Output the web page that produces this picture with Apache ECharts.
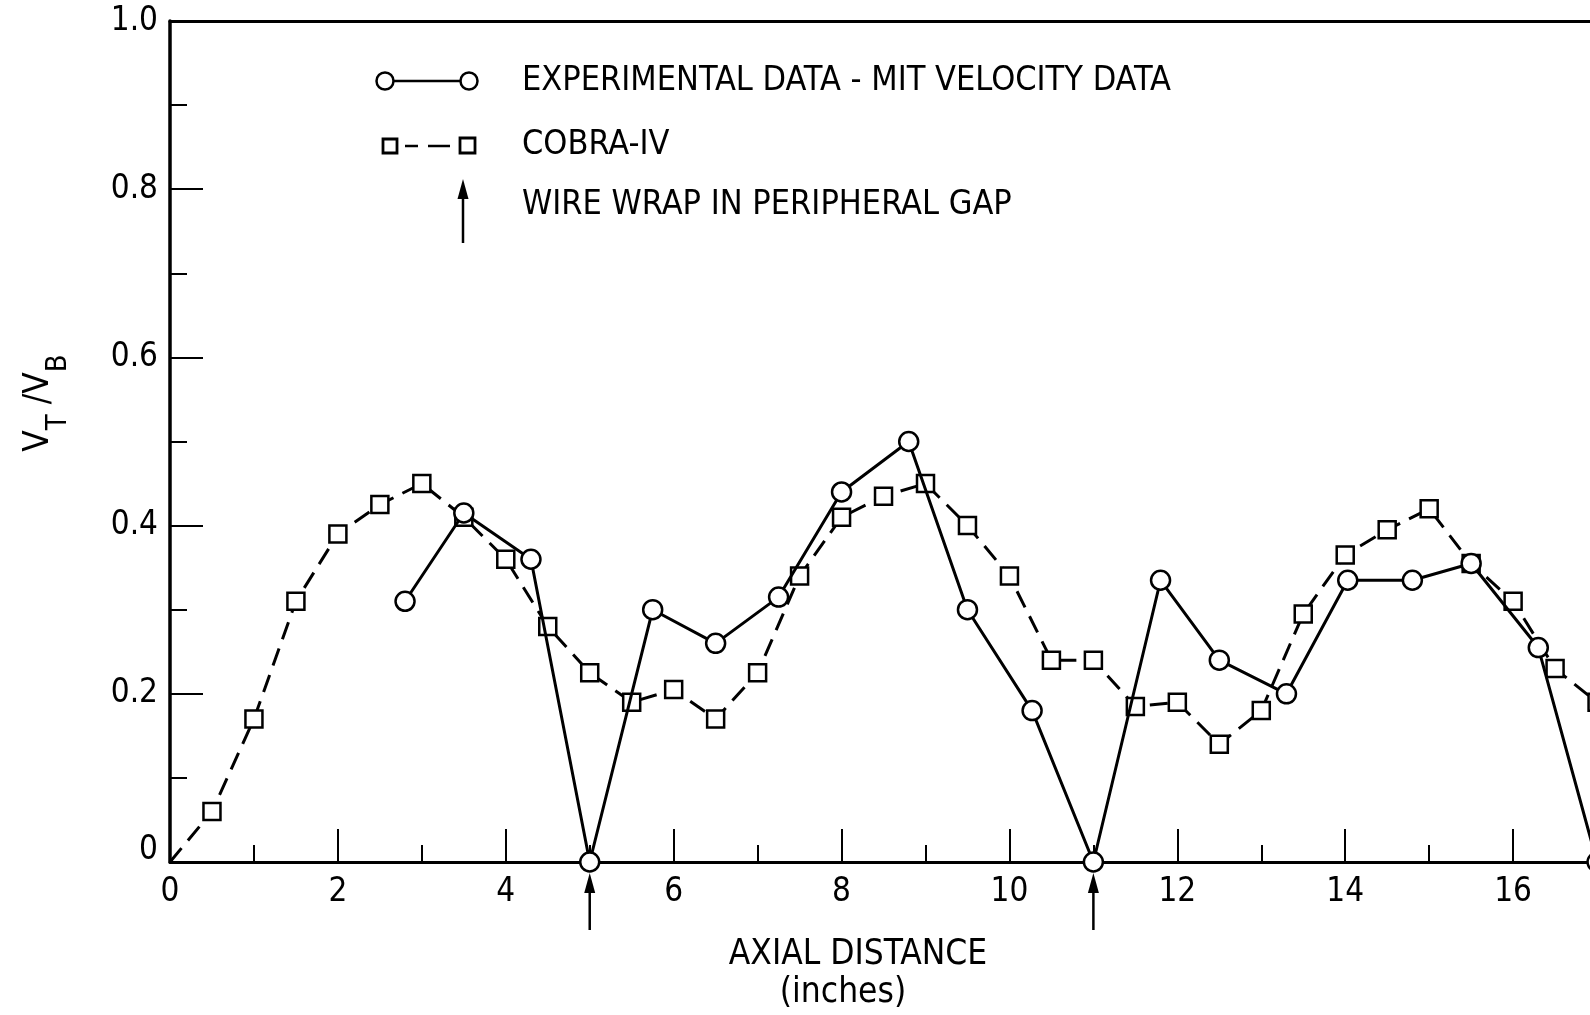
<!DOCTYPE html>
<html>
<head>
<meta charset="utf-8">
<script src="https://cdn.jsdelivr.net/npm/echarts@6/dist/echarts.min.js"></script>
<style>
  html, body { margin: 0; padding: 0; background: #fff; }
  #chart { width: 1590px; height: 1015px; }
</style>
</head>
<body>
<div id="chart"></div>
<script>
// COBRA-IV prediction (squares, dashed line)
const cobraX = [0, 0.5, 1, 1.5, 2, 2.5, 3, 3.5, 4, 4.5, 5, 5.5, 6, 6.5, 7, 7.5, 8, 8.5, 9, 9.5,
  10, 10.5, 11, 11.5, 12, 12.5, 13, 13.5, 14, 14.5, 15, 15.5, 16, 16.5, 17];
const cobraY = [0, 0.06, 0.17, 0.31, 0.39, 0.425, 0.45, 0.41, 0.36, 0.28, 0.225, 0.19, 0.205, 0.17, 0.225, 0.34, 0.41, 0.435, 0.45, 0.40,
  0.34, 0.24, 0.24, 0.185, 0.19, 0.14, 0.18, 0.295, 0.365, 0.395, 0.42, 0.355, 0.31, 0.23, 0.19];
// MIT velocity data (circles, solid line)
const expX = [2.8, 3.5, 4.3, 5, 5.75, 6.5, 7.25, 8, 8.8, 9.5, 10.27, 11, 11.8, 12.5, 13.3, 14.03, 14.8, 15.5, 16.3, 17];
const expY = [0.31, 0.415, 0.36, 0, 0.30, 0.26, 0.315, 0.44, 0.50, 0.30, 0.18, 0, 0.335, 0.24, 0.20, 0.335, 0.335, 0.355, 0.255, 0];
// wire wrap in peripheral gap
const wireWrapX = [5, 11];
const yTickLabels = ['0', '0.2', '0.4', '0.6', '0.8', '1.0'];

const FONT = '"Liberation Sans Narrow", "DejaVu Sans Condensed", "Liberation Sans", sans-serif';
const black = '#000';

const chart = echarts.init(document.getElementById('chart'));

const tickStyle = {color: black, width: 2};
const legendTextStyle = {fontFamily: FONT, fontSize: 34, fill: black, verticalAlign: 'middle'};

chart.setOption({
  backgroundColor: '#fff',
  animation: false,
  textStyle: {fontFamily: FONT, color: black},
  grid: {left: 170, top: 21, right: -91, bottom: 153, outerBoundsMode: 'none', containLabel: false},
  xAxis: [
    {
      type: 'value', min: 0, max: 18, interval: 2,
      axisLine: {lineStyle: {color: black, width: 3}},
      axisTick: {inside: true, length: 33, lineStyle: tickStyle},
      minorTick: {show: true, splitNumber: 2, length: 17, lineStyle: tickStyle},
      splitLine: {show: false},
      axisLabel: {margin: 14, color: black, fontSize: 33, fontFamily: FONT}
    },
    {
      type: 'value', position: 'top', min: 0, max: 18,
      axisLine: {show: true, lineStyle: {color: black, width: 3}},
      axisTick: {show: false}, axisLabel: {show: false}, splitLine: {show: false}
    }
  ],
  yAxis: {
    type: 'value', min: 0, max: 1, interval: 0.2,
    axisLine: {lineStyle: {color: black, width: 3.5}},
    axisTick: {inside: true, length: 33, lineStyle: tickStyle},
    minorTick: {show: true, splitNumber: 2, length: 17, lineStyle: tickStyle},
    splitLine: {show: false},
    axisLabel: {
      margin: 12, color: black, fontSize: 33, fontFamily: FONT,
      formatter: (v) => {
        const s = yTickLabels[Math.round(v / 0.2)];
        return v === 0 ? '{z|' + s + '}' : s;
      },
      rich: {z: {fontSize: 33, fontFamily: FONT, color: black, padding: [0, 0, 24, 0]}}
    }
  },
  series: [
    {
      name: 'COBRA-IV',
      type: 'line',
      data: cobraX.map((x, i) => i === 0 ? {value: [x, cobraY[i]], symbol: 'none'} : [x, cobraY[i]]),
      symbol: 'rect',
      symbolSize: 17,
      lineStyle: {color: black, width: 3, type: [18, 10]},
      itemStyle: {color: '#fff', borderColor: black, borderWidth: 2.5},
      z: 2
    },
    {
      name: 'EXPERIMENTAL DATA - MIT VELOCITY DATA',
      type: 'line',
      data: expX.map((x, i) => [x, expY[i]]),
      symbol: 'circle',
      symbolSize: 19,
      lineStyle: {color: black, width: 3},
      itemStyle: {color: '#fff', borderColor: black, borderWidth: 2.5},
      z: 3
    },
    {
      name: 'wire wrap',
      type: 'custom',
      silent: true,
      clip: false,
      data: wireWrapX.map(x => [x, 0]),
      renderItem: (params, api) => {
        const p = api.coord([api.value(0), api.value(1)]);
        return {
          type: 'group',
          children: [
            {type: 'line', shape: {x1: p[0], y1: p[1] + 24, x2: p[0], y2: p[1] + 68}, style: {stroke: black, lineWidth: 2.5}},
            {type: 'polygon', shape: {points: [[p[0], p[1] + 11], [p[0] - 5.5, p[1] + 31], [p[0] + 5.5, p[1] + 31]]}, style: {fill: black}}
          ]
        };
      }
    }
  ],
  graphic: [
    // legend
    {type: 'line', shape: {x1: 393, y1: 81, x2: 461, y2: 81}, style: {stroke: black, lineWidth: 2.5}},
    {type: 'circle', shape: {cx: 385, cy: 81, r: 8.5}, style: {fill: '#fff', stroke: black, lineWidth: 2.5}},
    {type: 'circle', shape: {cx: 469, cy: 81, r: 8.5}, style: {fill: '#fff', stroke: black, lineWidth: 2.5}},
    {type: 'text', x: 522, y: 81, style: Object.assign({text: 'EXPERIMENTAL DATA - MIT VELOCITY DATA'}, legendTextStyle)},
    {type: 'line', shape: {x1: 405, y1: 146, x2: 418, y2: 146}, style: {stroke: black, lineWidth: 2.5}},
    {type: 'line', shape: {x1: 428, y1: 146, x2: 450, y2: 146}, style: {stroke: black, lineWidth: 2.5}},
    {type: 'rect', shape: {x: 383, y: 139, width: 14, height: 14}, style: {fill: '#fff', stroke: black, lineWidth: 2.8}},
    {type: 'rect', shape: {x: 460, y: 138, width: 15, height: 15}, style: {fill: '#fff', stroke: black, lineWidth: 2.8}},
    {type: 'text', x: 522, y: 145, style: Object.assign({text: 'COBRA-IV'}, legendTextStyle)},
    {type: 'line', shape: {x1: 463, y1: 192, x2: 463, y2: 243}, style: {stroke: black, lineWidth: 2.5}},
    {type: 'polygon', shape: {points: [[463, 179], [457.5, 199], [468.5, 199]]}, style: {fill: black}},
    {type: 'text', x: 522, y: 205, style: Object.assign({text: 'WIRE WRAP IN PERIPHERAL GAP'}, legendTextStyle)},
    // axis titles
    {type: 'text', x: 858, y: 955, style: {text: 'AXIAL DISTANCE', fontFamily: FONT, fontSize: 35, fill: black, align: 'center', verticalAlign: 'middle'}},
    {type: 'text', x: 843, y: 993, style: {text: '(inches)', fontFamily: FONT, fontSize: 35, fill: black, align: 'center', verticalAlign: 'middle'}},
    {
      type: 'text', x: 39, y: 403, rotation: Math.PI / 2,
      style: {
        text: '{v|V}{s|T}{v| /V}{s|B}',
        align: 'center', verticalAlign: 'middle',
        rich: {
          v: {fontFamily: FONT, fontSize: 35, fill: black, lineHeight: 35, verticalAlign: 'top'},
          s: {fontFamily: FONT, fontSize: 29, fill: black, lineHeight: 29, padding: [22, 0, 0, 0], verticalAlign: 'top'}
        }
      }
    }
  ]
});
</script>
</body>
</html>
